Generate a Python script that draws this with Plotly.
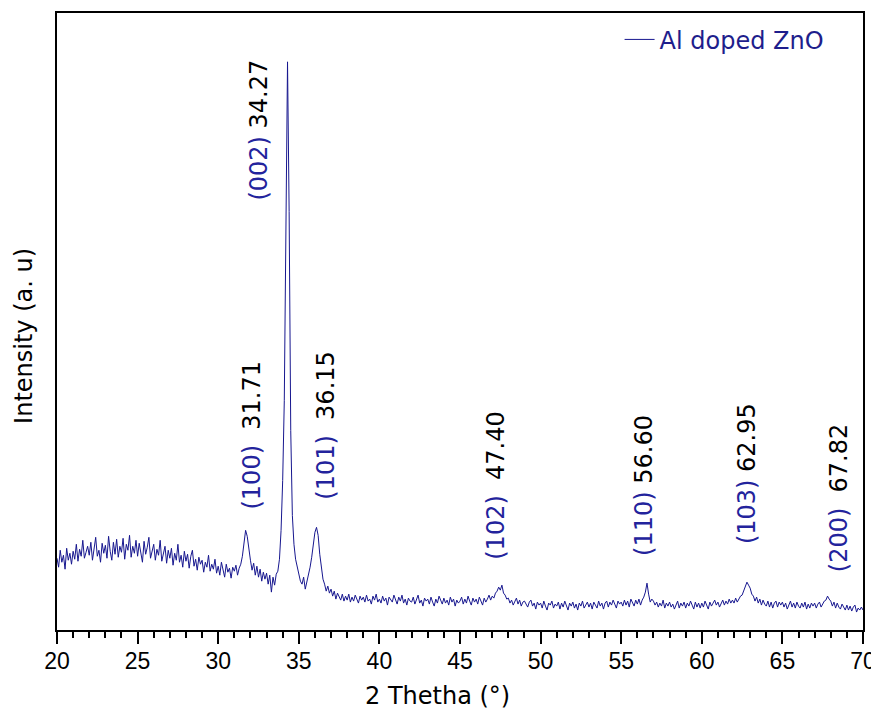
import numpy as np
import plotly.graph_objects as go

# 2-theta sampling grid (degrees), 0.1 deg step from 20.0 to 70.0
two_theta = np.round(np.arange(20.0, 70.0001, 0.1), 1)

# Intensity (arbitrary units): one row per degree (x.0 ... x.9)
intensity_rows = [
    [72, 63, 80, 68, 75, 61, 82, 70, 77, 66],   # 20
    [79, 71, 86, 69, 81, 74, 90, 72, 78, 84],   # 21
    [75, 88, 70, 83, 93, 74, 80, 68, 87, 77],   # 22
    [85, 72, 94, 79, 70, 88, 76, 91, 73, 84],   # 23
    [78, 92, 71, 86, 80, 95, 73, 84, 77, 90],   # 24
    [74, 87, 79, 68, 89, 76, 83, 93, 72, 80],   # 25
    [86, 70, 81, 75, 90, 69, 78, 84, 67, 80],   # 26
    [72, 82, 65, 77, 70, 86, 68, 75, 63, 79],   # 27
    [69, 76, 62, 74, 80, 64, 71, 60, 73, 66],   # 28
    [70, 58, 68, 63, 75, 59, 66, 61, 71, 57],   # 29
    [64, 55, 68, 60, 53, 66, 58, 62, 52, 63],   # 30
    [59, 65, 55, 62, 66, 74, 86, 100, 94, 79],  # 31
    [70, 60, 67, 55, 64, 53, 61, 49, 58, 51],   # 32
    [57, 46, 55, 38, 53, 45, 56, 59, 71, 100],  # 33
    [150, 230, 430, 570, 420, 200, 115, 86, 71, 63],  # 34
    [55, 49, 46, 53, 41, 48, 56, 63, 73, 86],   # 35
    [98, 103, 95, 76, 61, 51, 46, 39, 44, 37],  # 36
    [41, 34, 39, 31, 37, 33, 30, 36, 29, 34],   # 37
    [30, 36, 28, 33, 29, 35, 31, 27, 34, 30],   # 38
    [33, 28, 35, 29, 31, 26, 34, 30, 36, 28],   # 39
    [31, 27, 34, 29, 32, 25, 33, 30, 28, 35],   # 40
    [30, 26, 33, 29, 35, 27, 31, 25, 32, 29],   # 41
    [28, 33, 26, 31, 35, 27, 30, 24, 32, 29],   # 42
    [31, 26, 33, 28, 24, 31, 27, 34, 29, 26],   # 43
    [32, 27, 30, 25, 33, 28, 31, 24, 30, 27],   # 44
    [29, 33, 26, 31, 27, 34, 29, 25, 32, 28],   # 45
    [31, 26, 33, 29, 25, 32, 28, 31, 35, 30],   # 46
    [34, 32, 37, 39, 43, 40, 45, 37, 35, 31],   # 47
    [32, 27, 30, 25, 29, 32, 26, 30, 24, 28],   # 48
    [29, 25, 23, 28, 30, 24, 27, 21, 28, 25],   # 49
    [27, 22, 29, 24, 20, 27, 25, 29, 22, 26],   # 50
    [24, 28, 21, 27, 23, 29, 25, 20, 27, 24],   # 51
    [28, 22, 26, 20, 27, 24, 29, 22, 25, 28],   # 52
    [23, 27, 21, 28, 25, 22, 29, 24, 27, 21],   # 53
    [27, 29, 23, 28, 25, 30, 26, 22, 29, 26],   # 54
    [28, 24, 30, 25, 29, 23, 31, 27, 24, 30],   # 55
    [26, 31, 25, 30, 33, 38, 47, 36, 28, 31],   # 56
    [29, 25, 28, 23, 27, 24, 30, 22, 27, 24],   # 57
    [28, 23, 26, 21, 25, 29, 22, 27, 24, 28],   # 58
    [22, 27, 24, 29, 25, 21, 28, 23, 27, 22],   # 59
    [27, 23, 29, 25, 21, 28, 24, 27, 30, 25],   # 60
    [28, 23, 27, 30, 25, 29, 26, 31, 27, 30],   # 61
    [27, 32, 28, 31, 34, 35, 40, 44, 48, 45],   # 62
    [42, 36, 34, 29, 33, 27, 31, 25, 30, 26],   # 63
    [24, 29, 23, 28, 22, 27, 29, 23, 28, 25],   # 64
    [28, 23, 27, 21, 26, 29, 23, 27, 22, 28],   # 65
    [24, 22, 27, 23, 28, 21, 26, 22, 27, 24],   # 66
    [27, 22, 26, 28, 23, 27, 29, 30, 34, 31],   # 67
    [29, 24, 28, 22, 27, 23, 21, 26, 22, 20],   # 68
    [25, 20, 24, 19, 23, 25, 18, 22, 20, 23],   # 69
]
intensity_end = [20]  # 70.0
intensity = [v for row in intensity_rows for v in row] + intensity_end

# Peak labels
peak_planes = ["(100)", "(002)", "(101)", "(102)", "(110)", "(103)", "(200)"]
peak_positions = ["31.71", "34.27", "36.15", "47.40", "56.60", "62.95", "67.82"]
label_x = [32.09, 32.53, 36.69, 47.25, 56.44, 62.78, 68.56]
label_y = [196, 502, 205, 145, 145, 157, 133]
label_gap = ["&nbsp;&nbsp;", " ", "&nbsp;&nbsp;", "&nbsp;&nbsp;", " ", " ", "&nbsp;&nbsp;"]

x_ticks = [20, 25, 30, 35, 40, 45, 50, 55, 60, 65, 70]

LINE_COLOR = "#17178f"
LABEL_BLUE = "#23239c"
TXT_FONT = "DejaVu Sans"

fig = go.Figure()
fig.add_trace(go.Scatter(
    x=two_theta, y=intensity, mode="lines", name="Al doped ZnO",
    line=dict(color=LINE_COLOR, width=1),
))

for plane, pos, lx, ly, gap in zip(peak_planes, peak_positions, label_x, label_y, label_gap):
    fig.add_annotation(
        x=lx, y=ly, xref="x", yref="y",
        text=f"<span style='color:{LABEL_BLUE}'>{plane}</span>{gap}{pos}",
        textangle=-90, showarrow=False,
        font=dict(family=TXT_FONT, size=24, color="black"),
        xanchor="center", yanchor="middle",
    )

# Axis titles
fig.add_annotation(
    x=0.4715, y=-0.1066, xref="paper", yref="paper",
    text="2 Thetha (°)", showarrow=False,
    font=dict(family=TXT_FONT, size=24, color="black"),
    xanchor="center", yanchor="middle",
)
fig.add_annotation(
    x=-0.041, y=0.4766, xref="paper", yref="paper",
    text="Intensity (a. u)", showarrow=False, textangle=-90,
    font=dict(family=TXT_FONT, size=24, color="black"),
    xanchor="center", yanchor="middle",
)

# the page body has an 8px margin, so the figure is sized to fit the window
fig.update_layout(
    width=871, height=708,
    margin=dict(l=49, r=16, t=3, b=86),
    paper_bgcolor="white", plot_bgcolor="white",
    showlegend=True,
    legend=dict(
        x=0.698, y=0.993, xanchor="left", yanchor="top",
        bgcolor="rgba(0,0,0,0)", borderwidth=0,
        font=dict(family=TXT_FONT, size=24, color="#1e1e8c"),
    ),
)
fig.update_xaxes(
    range=[20, 70], tickvals=x_ticks, ticktext=[str(t) for t in x_ticks],
    ticks="outside", ticklen=12, tickwidth=1.5, tickcolor="black",
    minor=dict(dtick=1, tick0=20, ticks="outside", ticklen=6, tickwidth=1.5, tickcolor="black"),
    showline=True, linecolor="black", linewidth=1.5, mirror=True,
    showgrid=False, zeroline=False, ticklabelstandoff=-2,
    tickfont=dict(family="Liberation Sans, Arial", size=23, color="black"),
)
fig.update_yaxes(
    range=[0, 619], showticklabels=False, ticks="",
    showline=True, linecolor="black", linewidth=1.5, mirror=True,
    showgrid=False, zeroline=False,
)

fig.write_html("out.html")
